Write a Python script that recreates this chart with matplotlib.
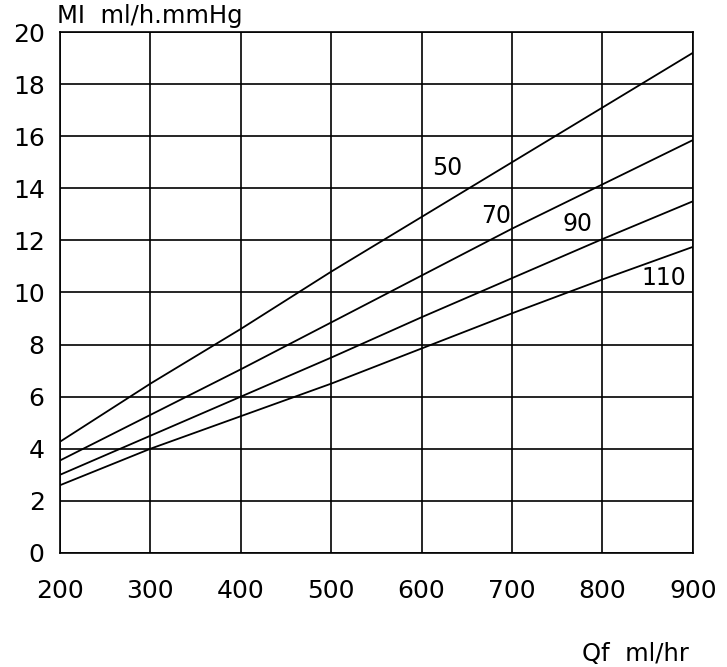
import matplotlib
matplotlib.use("Agg")
import matplotlib.pyplot as plt

qf = [200, 300, 400, 500, 600, 700, 800, 900]
mi_50 = [4.27, 6.5, 8.6, 10.8, 12.9, 15.0, 17.1, 19.2]
mi_70 = [3.55, 5.3, 7.05, 8.85, 10.65, 12.45, 14.15, 15.85]
mi_90 = [3.0, 4.5, 6.0, 7.5, 9.05, 10.55, 12.05, 13.5]
mi_110 = [2.6, 4.0, 5.25, 6.5, 7.85, 9.2, 10.5, 11.75]
series = [("50", mi_50, (628, 14.78)), ("70", mi_70, (682, 12.94)),
          ("90", mi_90, (772, 12.64)), ("110", mi_110, (868, 10.55))]
x_ticks = [200, 300, 400, 500, 600, 700, 800, 900]
y_ticks = [0, 2, 4, 6, 8, 10, 12, 14, 16, 18, 20]

plt.rcParams['font.family'] = ['DejaVu Sans']
fig = plt.figure(figsize=(7.27, 6.67), dpi=100)
ax = fig.add_axes([0.0825, 0.171, 0.8705, 0.781])
for name, vals, (lx, ly) in series:
    ax.plot(qf, vals, color='black', lw=1.3)
    ax.text(lx, ly, name, fontsize=17, ha='center', va='center', color='black')

ax.set_xlim(200, 900)
ax.set_ylim(0, 20)
ax.set_xticks(x_ticks)
ax.set_yticks(y_ticks)
ax.tick_params(length=0, labelsize=18)
ax.tick_params(axis='x', pad=19)
ax.tick_params(axis='y', pad=11)
ax.grid(True, color='black', lw=1.2)
for s in ax.spines.values():
    s.set_color('black')
    s.set_linewidth(1.2)

fig.text(57/727, 1 - 16/667, "MI  ml/h.mmHg", fontsize=17.5, ha='left', va='center')
fig.text(582/727, 1 - 654/667, "Qf  ml/hr", fontsize=17.5, ha='left', va='center')

fig.savefig("out.png", dpi=100)
